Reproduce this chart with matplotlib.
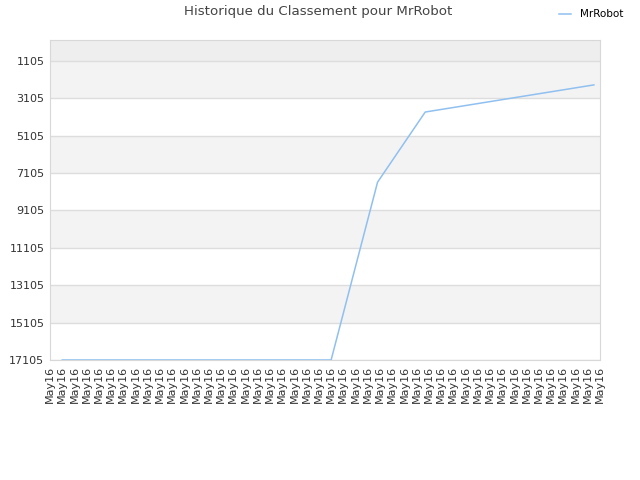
import numpy as np
from matplotlib import pyplot as plt

# ranking history (lower rank = better), x in tick units
x_pos = [1.0, 23.0, 26.8, 30.7, 36.6, 44.5]
ranks = [17105, 17105, 7600, 3850, 3230, 2400]
n_ticks = 46
tick_labels = ['May16'] * n_ticks
y_ticks = [1105, 3105, 5105, 7105, 9105, 11105, 13105, 15105, 17105]

fig = plt.figure(figsize=(6.4, 4.8), dpi=100)
ax = fig.add_axes([50 / 640, 1 - 360 / 480, 550 / 640, 320 / 480])

ax.set_xlim(0, n_ticks - 1)
ax.set_ylim(17105, 0)

# alternating background bands
ax.axhspan(0, 1105, color='#eeeeee', zorder=0, lw=0)
for lo in [1105, 5105, 9105, 13105]:
    ax.axhspan(lo, lo + 2000, color='#f3f3f3', zorder=0, lw=0)
for y in y_ticks:
    ax.axhline(y, color='#dddddd', lw=1, zorder=1)

ax.plot(x_pos, ranks, color='#90c0f0', lw=1.1, zorder=3, label='MrRobot')

ax.set_yticks(y_ticks)
ax.set_yticklabels([str(v) for v in y_ticks], fontsize=8, color='#333333')
ax.set_xticks(np.arange(n_ticks))
ax.set_xticklabels(tick_labels, rotation=90, fontsize=8, color='#333333')
ax.tick_params(length=0, pad=4)

for s in ax.spines.values():
    s.set_color('#d8d8d8')

fig.text(318 / 640, 1 - 12 / 480, 'Historique du Classement pour MrRobot',
         ha='center', va='center', fontsize=9.6, color='#444444')
fig.legend(loc='upper right', bbox_to_anchor=(0.988, 1.0), frameon=False,
           fontsize=7.5, handlelength=1.2, handletextpad=0.8)

fig.savefig('out.png', dpi=100)
